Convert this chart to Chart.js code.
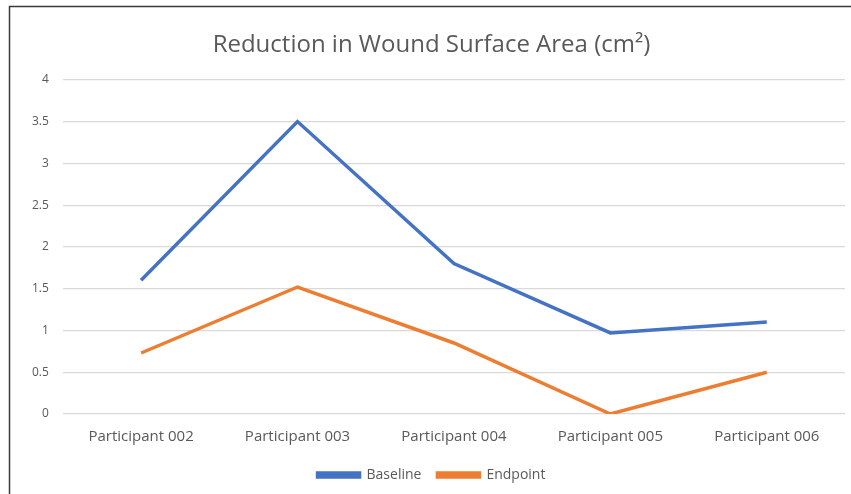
<!DOCTYPE html>
<html><head><meta charset="utf-8">
<script src="https://cdn.jsdelivr.net/npm/chart.js@4/dist/chart.umd.min.js"></script>
<style>html,body{margin:0;padding:0;background:#fff}#wrap{width:851px;height:494px}</style>
</head><body><div id="wrap"><canvas id="c" width="851" height="494"></canvas></div>
<script>
const categories = ["Participant 002","Participant 003","Participant 004","Participant 005","Participant 006"];
const baseline = [1.6, 3.5, 1.8, 0.97, 1.1];
const endpoint = [0.73, 1.52, 0.85, 0.0, 0.5];
const yTicks = [0,0.5,1,1.5,2,2.5,3,3.5,4];

const frame = {id:'frame',
  beforeDraw(ch){const c=ch.ctx;c.save();c.fillStyle='#fff';c.fillRect(0,0,ch.width,ch.height);c.restore();},
  afterDraw(ch){const c=ch.ctx;c.save();c.strokeStyle='#3a3a3a';c.lineWidth=1.5;c.beginPath();c.moveTo(9.5,ch.height);c.lineTo(9.5,6.5);c.lineTo(ch.width,6.5);c.stroke();c.restore();}
};

new Chart(document.getElementById('c'), {
  type:'line',
  data:{labels:categories, datasets:[
    {label:'Baseline', data:baseline, borderColor:'#4472C4', backgroundColor:'#4472C4', borderWidth:3.5, pointRadius:0, tension:0},
    {label:'Endpoint', data:endpoint, borderColor:'#ED7D31', backgroundColor:'#ED7D31', borderWidth:3.5, pointRadius:0, tension:0}
  ]},
  options:{
    responsive:false, animation:false,
    layout:{padding:{left:18,right:6,top:31,bottom:2}},
    plugins:{
      title:{display:true, text:'Reduction in Wound Surface Area (cm²)', color:'#595959', font:{family:'Open Sans', size:24, weight:'normal'}, padding:{top:0,bottom:20}},
      legend:{position:'bottom', labels:{boxWidth:42, boxHeight:4, color:'#595959', font:{family:'Open Sans', size:14}, padding:16}},
      tooltip:{enabled:false}
    },
    scales:{
      x:{offset:true, grid:{display:false}, border:{display:false}, ticks:{color:'#595959', font:{family:'Open Sans', size:15}, padding:6}},
      y:{min:0, max:4, afterBuildTicks(ax){ax.ticks=yTicks.map(v=>({value:v}));}, grid:{color:'#d9d9d9', lineWidth:1.2, drawTicks:false}, border:{display:false},
         ticks:{color:'#595959', font:{family:'Open Sans', size:12}, padding:14, callback:(v)=>String(v)}}
    }
  },
  plugins:[frame]
});
</script></body></html>
